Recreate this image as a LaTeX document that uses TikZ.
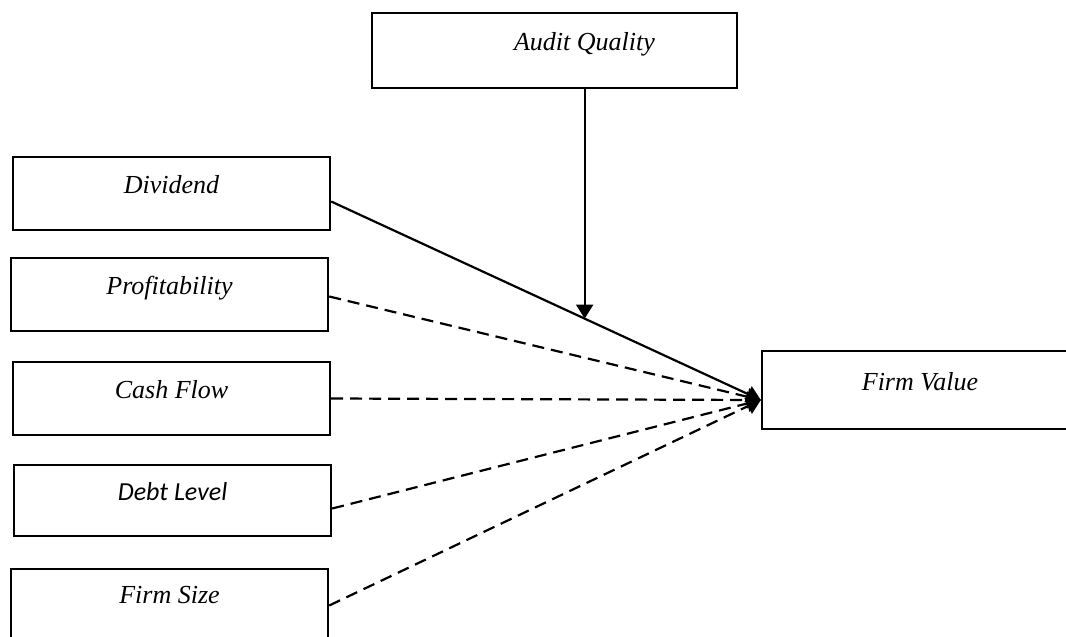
\documentclass[tikz,border=0pt]{standalone}
\usepackage{fontspec}
\setmainfont{Liberation Serif}
\newfontfamily\calibrifont{Carlito}
\usetikzlibrary{arrows.meta, calc}

\begin{document}
\begin{tikzpicture}[x=0.5pt, y=-0.5pt,
  box/.style={draw, line width=1.2pt, minimum width=158.5pt, minimum height=36.5pt,
    inner sep=0pt, text height=6pt, text depth=6pt, font=\fontsize{13}{15}\selectfont\itshape},
  link/.style={line width=1.1pt, -{Triangle[length=7pt, width=8.5pt]}},
  weak/.style={link, dash pattern=on 6pt off 3.5pt}]

\useasboundingbox (0,0) rectangle (1066,637);

\node[box, minimum width=182.5pt, minimum height=37.5pt] (aq) at (554.5,50.5) {\hspace*{30pt}Audit Quality};
\node[box] (div) at (171.5,193.5) {Dividend};
\node[box] (prof) at (169.5,294.5) {Profitability};
\node[box] (cf) at (171.5,398.5) {Cash Flow};
\node[box, minimum height=35.5pt, font=\fontsize{13}{15}\selectfont\calibrifont\itshape] (debt) at (172.5,500.5) {Debt Level};
\node[box, minimum height=34.5pt] (fs) at (169.5,603.5) {Firm Size};
\node[box, minimum width=158pt, minimum height=39pt] (fv) at (920,390) {Firm Value};

\coordinate (fvin) at ($(fv.west)+(0,10)$);
\coordinate (divout) at ([yshift=-4pt]div.east);
\coordinate (mod) at ($(divout)!0.59!(fvin)$);

\draw[link] (divout) -- (fvin);
\draw[weak] ([yshift=-1pt]prof.east) -- (fvin);
\draw[weak] (cf.east) -- (fvin);
\draw[weak] ([yshift=-4pt]debt.east) -- (fvin);
\draw[weak] ([yshift=-1pt]fs.east) -- (fvin);
\draw[link] (aq.south -| mod) -- (mod);

\end{tikzpicture}
\end{document}
